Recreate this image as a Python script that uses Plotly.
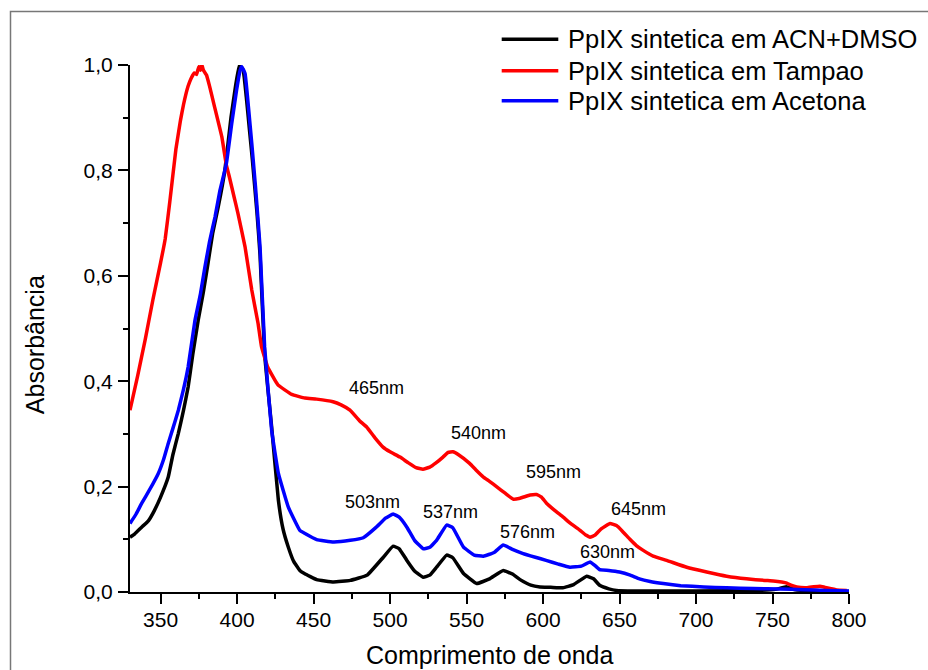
import plotly.graph_objects as go

# Absorption spectra of synthetic PpIX in three solvents
wl_acn = [330, 333, 337.6, 342, 346, 350, 355, 358, 361.6, 365, 368, 371, 374.6, 378, 381, 384, 387.7,
          392, 396, 399, 401.5, 404, 406, 408, 410, 413, 415, 418, 422.6, 427, 430, 433.5, 437, 441, 444,
          452, 463, 474, 485, 495.6, 502, 506, 511, 516, 521.7, 526, 530.4, 537, 541, 548, 556.6, 565,
          574, 580, 585, 592, 598, 605, 613, 620, 628.5, 633, 637, 643, 648, 660, 700, 740, 752, 759,
          765, 780, 800]
abs_acn = [0.104, 0.11, 0.123, 0.135, 0.155, 0.18, 0.218, 0.26, 0.301, 0.345, 0.389, 0.45, 0.516, 0.57,
           0.624, 0.68, 0.731, 0.80, 0.90, 0.96, 1.0, 0.99, 0.94, 0.88, 0.82, 0.72, 0.64, 0.45, 0.313,
           0.174, 0.12, 0.085, 0.058, 0.041, 0.035, 0.0235, 0.019, 0.022, 0.032, 0.066, 0.087, 0.082,
           0.06, 0.04, 0.028, 0.032, 0.047, 0.070, 0.065, 0.035, 0.016, 0.025, 0.041, 0.034, 0.0235,
           0.013, 0.0095, 0.009, 0.008, 0.014, 0.030, 0.025, 0.0127, 0.006, 0.003, 0.002, 0.002, 0.003,
           0.005, 0.010, 0.004, 0.002, 0.001]

wl_tampao = [330, 335, 340, 345, 350, 353, 356, 360, 363, 365, 368, 370, 372, 373.5, 375, 376, 377, 378,
             380, 382, 385, 390, 393, 395, 398, 400.6, 405.2, 409.6, 413.7, 416, 420, 426.7, 435.7, 444.4,
             452, 462.7, 468, 473.8, 480, 484.7, 490, 495.4, 500, 506.5, 512, 517, 521.5, 526, 530,
             534.6, 538, 541, 545, 552, 556, 561, 565, 570, 575, 580.6, 585, 591.5, 595.8, 599, 602.4,
             608, 613.2, 618, 624.2, 628, 630.7, 634, 638, 643.8, 648, 652, 656.8, 661, 665.5, 672,
             680.8, 693.9, 707, 720, 733, 745, 750.5, 756, 759.3, 762, 765.8, 772.3, 777, 781, 784,
             787.5, 792, 798.5]
abs_tampao = [0.345, 0.41, 0.48, 0.555, 0.625, 0.67, 0.74, 0.84, 0.895, 0.925, 0.96, 0.975, 0.985, 0.982,
              0.997, 0.99, 1.0, 0.99, 0.981, 0.96, 0.924, 0.864, 0.81, 0.787, 0.75, 0.718, 0.655, 0.573,
              0.51, 0.465, 0.427, 0.393, 0.375, 0.368, 0.366, 0.361, 0.355, 0.345, 0.325, 0.313, 0.293,
              0.275, 0.266, 0.256, 0.245, 0.236, 0.233, 0.237, 0.245, 0.256, 0.265, 0.266, 0.26, 0.244,
              0.232, 0.218, 0.21, 0.199, 0.188, 0.176, 0.178, 0.184, 0.185, 0.18, 0.168, 0.154, 0.142,
              0.13, 0.117, 0.108, 0.104, 0.108, 0.12, 0.130, 0.126, 0.115, 0.100, 0.088, 0.079, 0.068,
              0.060, 0.047, 0.038, 0.030, 0.025, 0.022, 0.021, 0.019, 0.017, 0.013, 0.0095, 0.008, 0.01,
              0.011, 0.009, 0.0065, 0.004, 0.003]

wl_acetona = [330, 334, 337.6, 343, 348.5, 352, 355, 358, 361.6, 365, 368, 372.5, 376, 379, 382, 385.6,
              388.8, 393, 396.5, 399.7, 402, 403, 405.2, 407.4, 409.6, 412, 415, 418, 422.6, 427, 433.5,
              441, 444.4, 452, 463, 474, 482.5, 491, 497, 502, 506, 511, 516, 521.7, 526, 530.4, 537,
              541, 548, 555, 561, 568, 574, 580, 587, 595, 602, 610, 617.6, 625, 630.7, 634, 637, 643,
              650, 657, 663, 670, 678.6, 690, 705, 720, 737.5, 755, 770, 785, 800]
abs_acetona = [0.130, 0.148, 0.168, 0.195, 0.225, 0.252, 0.282, 0.31, 0.345, 0.385, 0.427, 0.516, 0.565,
               0.617, 0.665, 0.712, 0.762, 0.813, 0.889, 0.953, 0.99, 0.997, 0.984, 0.921, 0.851, 0.77,
               0.655, 0.465, 0.307, 0.225, 0.161, 0.117, 0.111, 0.0995, 0.095, 0.098, 0.103, 0.123,
               0.14, 0.148, 0.142, 0.123, 0.098, 0.082, 0.085, 0.098, 0.127, 0.122, 0.085, 0.07, 0.068,
               0.075, 0.089, 0.081, 0.073, 0.066, 0.060, 0.053, 0.047, 0.049, 0.057, 0.05, 0.0425,
               0.041, 0.038, 0.032, 0.025, 0.02, 0.016, 0.012, 0.0095, 0.008, 0.0065, 0.0055, 0.0045,
               0.003, 0.002]

series_names = ["PpIX sintetica em ACN+DMSO", "PpIX sintetica em Tampao", "PpIX sintetica em Acetona"]
series_colors = ["#000000", "#ff0000", "#0000ff"]

# Peak labels: text, x (nm), y (absorbance)
peak_text = ["375nm", "402nm", "465nm", "540nm", "595nm", "645nm", "503nm", "537nm", "576nm", "630nm"]
peak_x = [361.7, 427.4, 491.2, 558.0, 607.0, 662.5, 488.7, 539.3, 589.7, 642.0]
peak_y = [1.023, 1.016, 0.388, 0.302, 0.228, 0.158, 0.171, 0.152, 0.114, 0.076]

x_ticks = [350, 400, 450, 500, 550, 600, 650, 700, 750, 800]
y_ticks = [0.0, 0.2, 0.4, 0.6, 0.8, 1.0]

FONT = "Liberation Sans, Arial, sans-serif"
W, H = 928, 670
ML, MR, MT, MB = 130, 79, 65, 78.3
PW, PH = W - ML - MR, H - MT - MB


def px_to_paper(px, py):
    return (px - ML) / PW, (H - MB - py) / PH


fig = go.Figure()
for wl, ab, color in zip([wl_acn, wl_tampao, wl_acetona],
                         [abs_acn, abs_tampao, abs_acetona], series_colors):
    fig.add_trace(go.Scatter(x=wl, y=ab, mode="lines", showlegend=False,
                             line=dict(color=color, width=3.5, shape="spline", smoothing=0.3)))

annotations = []
for t, x, y in zip(peak_text, peak_x, peak_y):
    annotations.append(dict(x=x, y=y, xref="x", yref="y", text=t, showarrow=False,
                            xanchor="center", yanchor="middle",
                            font=dict(family=FONT, size=18, color="#000")))

# axis titles
tx, ty = px_to_paper(489.5, 654.5)
annotations.append(dict(x=tx, y=ty, xref="paper", yref="paper", text="Comprimento de onda",
                        showarrow=False, xanchor="center", yanchor="middle",
                        font=dict(family=FONT, size=25, color="#000")))
tx, ty = px_to_paper(35, 345)
annotations.append(dict(x=tx, y=ty, xref="paper", yref="paper", text="Absorbância",
                        showarrow=False, xanchor="center", yanchor="middle", textangle=-90,
                        font=dict(family=FONT, size=25, color="#000")))

# legend
shapes = []
legend_rows = [39.3, 70.7, 100.7]
for name, color, ry in zip(series_names, series_colors, legend_rows):
    x0, y0 = px_to_paper(501.7, ry)
    x1, _ = px_to_paper(558.3, ry)
    shapes.append(dict(type="line", xref="paper", yref="paper", x0=x0, x1=x1, y0=y0, y1=y0,
                       line=dict(color=color, width=3.5)))
    lx, _ = px_to_paper(565.5, ry)
    annotations.append(dict(x=lx, y=y0, xref="paper", yref="paper", text=name, showarrow=False,
                            xanchor="left", yanchor="middle",
                            font=dict(family=FONT, size=25.5, color="#000")))

# outer frame
fx0, fy0 = px_to_paper(10.5, 11.5)
fx1, fy1 = px_to_paper(W + 20, H + 20)
shapes.append(dict(type="rect", xref="paper", yref="paper", x0=fx0, y0=fy1, x1=fx1, y1=fy0,
                   line=dict(color="#777777", width=1.5), layer="below"))

fig.update_layout(
    width=W, height=H,
    margin=dict(l=ML, r=MR, t=MT, b=MB, pad=0),
    paper_bgcolor="white", plot_bgcolor="white",
    separators=",.",
    font=dict(family=FONT, color="#000"),
    annotations=annotations, shapes=shapes,
    xaxis=dict(range=[330, 800], tickvals=x_ticks, ticks="outside", ticklen=10, tickwidth=2,
               tickcolor="#000", showline=True, linecolor="#000", linewidth=2, mirror=False,
               showgrid=False, zeroline=False, tickfont=dict(size=21, family=FONT),
               ticklabelstandoff=-2,
               minor=dict(dtick=25, tick0=0, ticks="outside", ticklen=5, tickwidth=2,
                          tickcolor="#000", showgrid=False)),
    yaxis=dict(range=[0, 1.0], tickvals=y_ticks, tickformat=".1f", ticks="outside", ticklen=10,
               tickwidth=2, tickcolor="#000", showline=True, linecolor="#000", linewidth=2,
               showgrid=False, zeroline=False, tickfont=dict(size=21, family=FONT),
               ticklabelstandoff=1,
               minor=dict(dtick=0.1, tick0=0, ticks="outside", ticklen=5, tickwidth=2,
                          tickcolor="#000", showgrid=False)),
)

fig.write_html("out.html")
